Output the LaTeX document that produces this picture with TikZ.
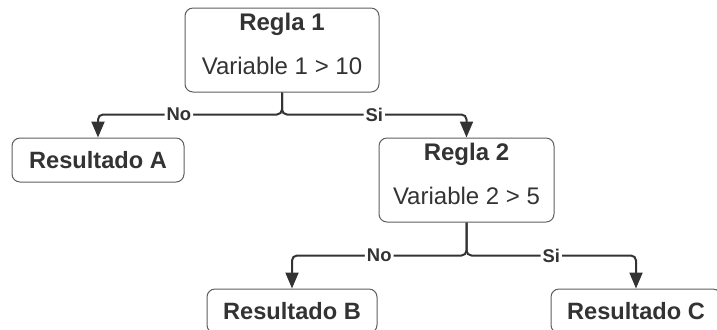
\documentclass[tikz,border=0pt]{standalone}
\usepackage{fontspec}
\setmainfont{Liberation Sans}
\usepackage{tikz}
\usetikzlibrary{positioning,arrows.meta}
\definecolor{dText}{RGB}{51,51,51}
\definecolor{dLine}{RGB}{51,51,51}
\definecolor{dBox}{RGB}{94,94,94}
\tikzset{
  rulebox/.style={rectangle, rounded corners=4pt, draw=dBox, line width=0.5pt,
                  fill=white, text=dText, minimum height=42pt, inner ysep=1pt,
                  align=center, font=\fontsize{12}{14}\selectfont},
  res/.style={rulebox, minimum height=22pt, minimum width=85pt,
              font=\fontsize{11.8}{14}\selectfont\bfseries},
  flow/.style={-{Triangle[length=8pt,width=6.5pt]}, draw=dLine, line width=1pt,
               rounded corners=2.5pt},
  lbl/.style={font=\fontsize{9.2}{10}\selectfont\bfseries, text=dText,
              fill=white, inner sep=1pt},
}
\newcommand{\Cond}[4][]{%
  \node[rulebox,#1] (#2) {\textbf{#3}\\[8pt]#4\rule[-6.5pt]{0pt}{0pt}};}
\newcommand{\Split}[5]{% {from}{to}{drop}{label}{pos}
  \draw[flow] (#1.south) -- ++(0,-#3) -| node[lbl,pos=#5]{#4} (#2.north);}

\begin{document}
\begin{tikzpicture}[x=0.5pt, y=-0.5pt]
  \useasboundingbox (0,0) rectangle (717,329);
  \Cond[at={(282,50)}, minimum width=97pt]{r1}{Regla 1}{Variable 1 > 10}
  \node[res, below left=22.5pt and 0pt of r1, minimum width=86pt] (resA) {Resultado A};
  \Cond[below right=22.5pt and -0.5pt of r1, minimum width=87.5pt]{r2}{Regla 2}{Variable 2 > 5}
  \node[res, below left=33pt and 0.5pt of r2] (resB) {Resultado B};
  \node[res, below right=33pt and -2pt of r2] (resC) {Resultado C};
  \Split{r1}{resA}{11pt}{No}{0.28}
  \Split{r1}{r2}{11pt}{Si}{0.25}
  \Split{r2}{resB}{16.5pt}{No}{0.25}
  \Split{r2}{resC}{16.5pt}{Si}{0.25}
\end{tikzpicture}
\end{document}
